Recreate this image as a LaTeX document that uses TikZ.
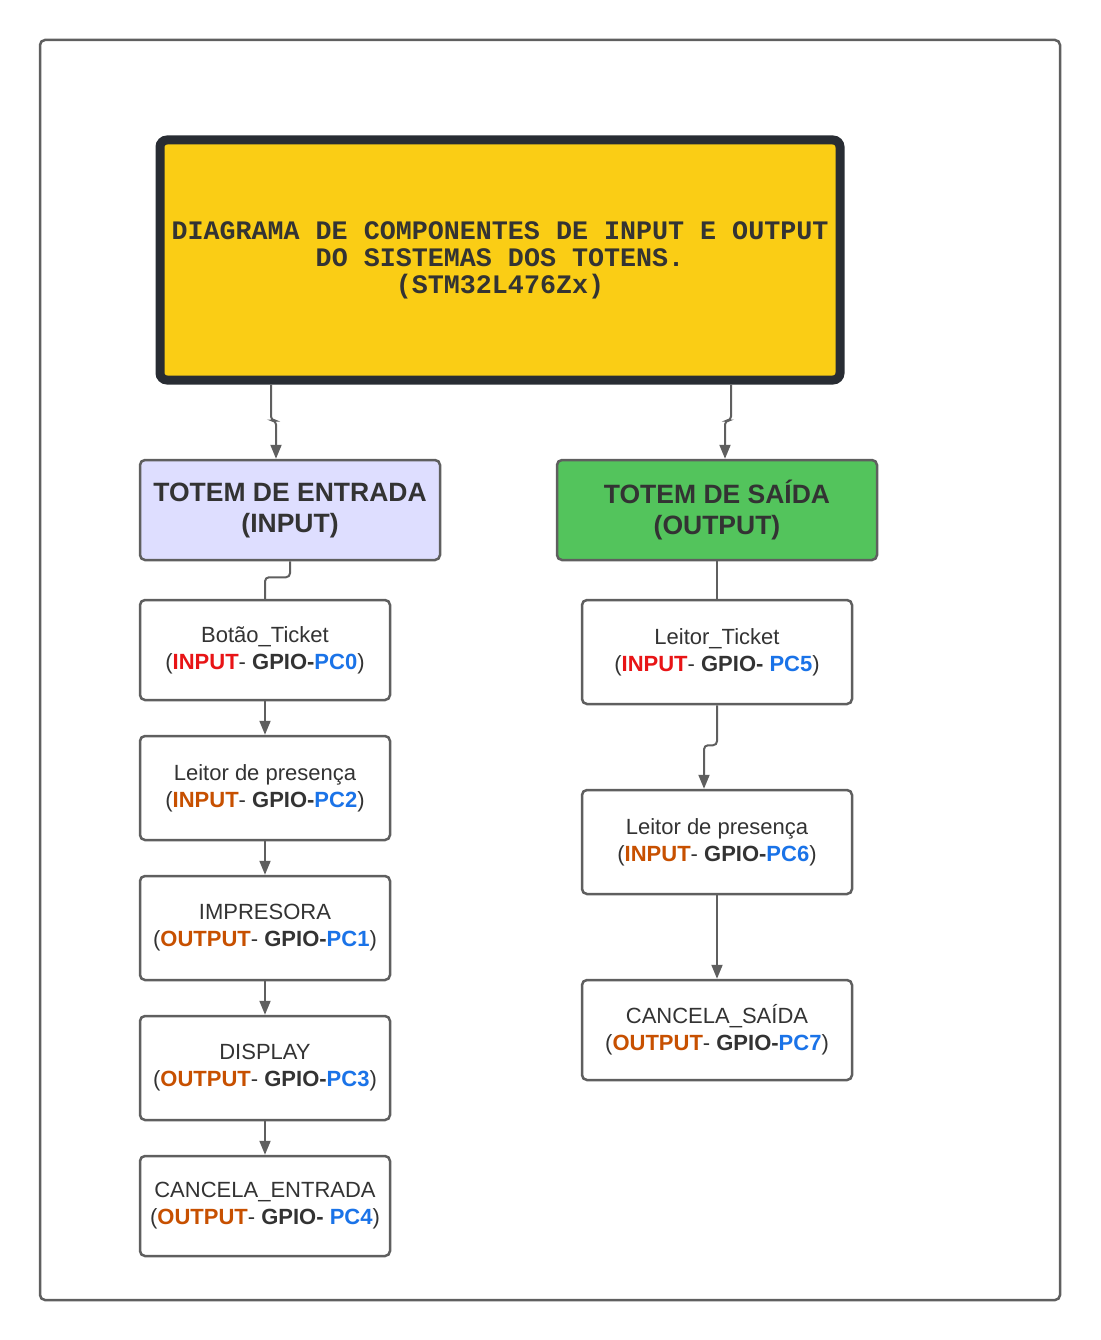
\documentclass[tikz,border=0pt]{standalone}
\usepackage{fontspec}
\setmainfont{Liberation Sans}
\setmonofont{Liberation Mono}
\usepackage{xcolor}
\usetikzlibrary{positioning,arrows.meta}

\definecolor{titlefill}{HTML}{FACD15}
\definecolor{titleedge}{HTML}{282C33}
\definecolor{entfill}{HTML}{DEDEFF}
\definecolor{saifill}{HTML}{53C45C}
\definecolor{boxgray}{HTML}{5F5F5F}
\definecolor{textdark}{HTML}{333333}
\definecolor{inpred}{HTML}{E81416}
\definecolor{ioorange}{HTML}{C75000}
\definecolor{pinblue}{HTML}{1A73E8}

\newcommand{\inred}[1]{\textbf{\textcolor{inpred}{#1}}}
\newcommand{\inorg}[1]{\textbf{\textcolor{ioorange}{#1}}}
\newcommand{\pin}[1]{\textcolor{pinblue}{#1}}

\begin{document}
\begin{tikzpicture}[x=1pt, y=-1pt,
    box/.style={draw=boxgray, line width=2.5pt, rounded corners=5pt, fill=white, text=textdark, align=center, inner sep=0pt, font=\fontsize{22}{27}\selectfont, minimum width=250pt, minimum height=104pt},
    totem/.style={box, font=\fontsize{26.5}{31}\selectfont\bfseries, minimum height=100pt},
    conn/.style={draw=boxgray, line width=2pt, rounded corners=4pt},
    arrow/.style={conn, -{Triangle[length=14pt, width=11pt]}}
]
\useasboundingbox (0,0) rectangle (1100,1340);
\draw[boxgray, line width=2.5pt, rounded corners=5pt] (40,40) rectangle (1060,1300);

\node[draw=titleedge, line width=9pt, rounded corners=7pt, fill=titlefill, text=textdark, align=center, inner sep=0pt, minimum width=680pt, minimum height=240pt, font=\fontsize{26.7}{27}\selectfont\ttfamily\bfseries] (title) at (500,260) {DIAGRAMA DE COMPONENTES DE INPUT E OUTPUT\\DO SISTEMAS DOS TOTENS.\\(STM32L476Zx)};

\node[totem, fill=entfill, minimum width=300pt] (entrada) at (290,510) {TOTEM DE ENTRADA\\(INPUT)};
\node[totem, fill=saifill, minimum width=320pt] (saida) at (717,510) {TOTEM DE SAÍDA\\(OUTPUT)};

% entrada
\node[box, minimum height=100pt] (botao) at (265,650) {Botão\_Ticket\\(\inred{INPUT}- \textbf{GPIO-\pin{PC0}})};
\node[box, below=33.5pt of botao] (presenca) {Leitor de presença\\(\inorg{INPUT}- \textbf{GPIO-\pin{PC2}})};
\node[box, below=33.5pt of presenca] (impressora) {IMPRESORA\\(\inorg{OUTPUT}- \textbf{GPIO-\pin{PC1}})};
\node[box, below=33.5pt of impressora] (display) {DISPLAY\\(\inorg{OUTPUT}- \textbf{GPIO-\pin{PC3}})};
\node[box, minimum height=100pt, below=33.5pt of display] (cancent) {CANCELA\_ENTRADA\\(\inorg{OUTPUT}- \textbf{GPIO- \pin{PC4}})};

% saida
\node[box, minimum width=270pt] (leitor) at (717,652) {Leitor\_Ticket\\(\inred{INPUT}- \textbf{GPIO- \pin{PC5}})};
\node[box, minimum width=270pt, below=83.5pt of leitor] (presenca2) {Leitor de presença\\(\inorg{INPUT}- \textbf{GPIO-\pin{PC6}})};
\node[box, minimum width=270pt, minimum height=100pt, below=83.5pt of presenca2] (cancsai) {CANCELA\_SAÍDA\\(\inorg{OUTPUT}- \textbf{GPIO-\pin{PC7}})};

\draw[arrow] ([xshift=115.5pt]title.south west) -- ++(0,36) -| ([xshift=-14pt]entrada.north);
\draw[arrow] ([xshift=-113.5pt]title.south east) -- ++(0,36) -| ([xshift=8pt]saida.north);
\draw[conn] (entrada.south) -- ++(0,16) -| (botao.north);
\draw[conn] (saida.south) -- (leitor.north);

\draw[arrow] (botao) -- (presenca);
\draw[arrow] (presenca) -- (impressora);
\draw[arrow] (impressora) -- (display);
\draw[arrow] (display) -- (cancent);

\draw[arrow] (leitor.south) -- ++(0,40) -| ([xshift=-13pt]presenca2.north);
\draw[arrow] (presenca2) -- (cancsai);

\end{tikzpicture}
\end{document}
